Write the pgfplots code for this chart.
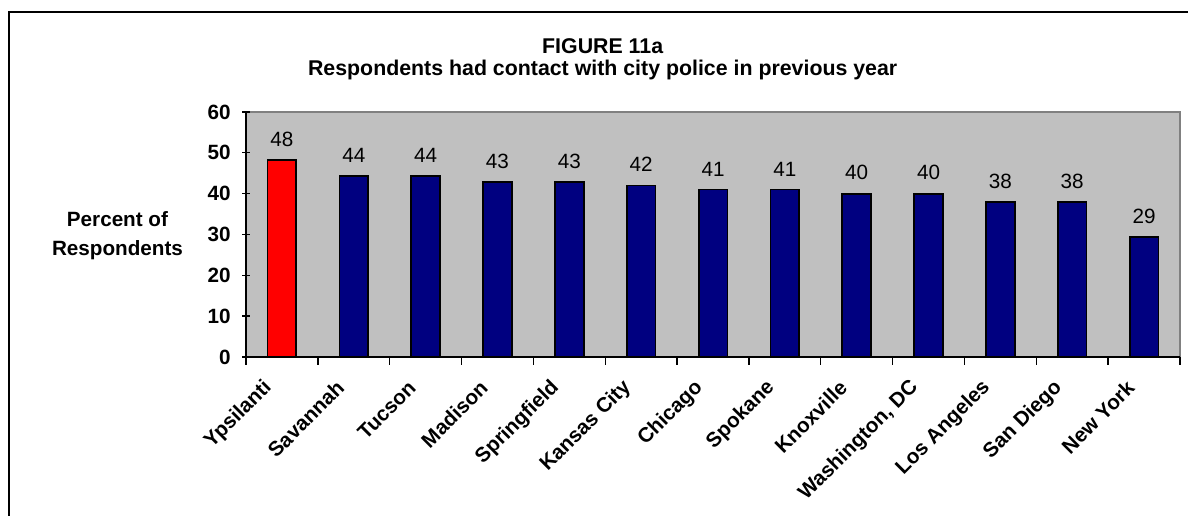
\documentclass[border=0pt]{standalone}
\usepackage{pgfplots}
\pgfplotsset{compat=1.18}
\usepackage{fontspec}
\setmainfont{Liberation Sans}
\definecolor{plotgray}{RGB}{192,192,192}
\definecolor{navybar}{RGB}{0,0,128}
\definecolor{bordergray}{RGB}{128,128,128}
\begin{document}
\begin{tikzpicture}
\useasboundingbox (0,0) rectangle (891pt,387pt);
\draw[line width=1.5pt] (6.75pt,0) -- (6.75pt,378pt) -- (891pt,378pt);
\node[anchor=base, inner sep=0pt, font=\fontsize{16}{19}\selectfont\bfseries] at (452pt,347pt) {FIGURE 11a};
\node[anchor=base, inner sep=0pt, font=\fontsize{16}{19}\selectfont\bfseries] at (452pt,330pt) {Respondents had contact with city police in previous year};
\begin{axis}[
  at={(184.5pt,119.25pt)}, anchor=south west,
  width=700.5pt, height=183.75pt, scale only axis,
  xmin=-0.5, xmax=12.5, ymin=0, ymax=60,
  ytick={0,10,...,60},
  xtick={0,...,12},
  xticklabels={Ypsilanti,Savannah,Tucson,Madison,Springfield,Kansas City,Chicago,Spokane,Knoxville,{Washington, DC},Los Angeles,San Diego,New York},
  minor xtick={-0.5,0.5,...,12.5},
  major x tick style={draw=none},
  tick align=outside,
  tick style={black, line width=1pt},
  major tick length=6pt,
  minor tick length=6pt,
  axis lines=left,
  axis line style={-, black, line width=1.3pt},
  axis background/.style={fill=plotgray, draw=bordergray, line width=1.5pt},
  /pgf/number format/assume math mode=true,
  yticklabel style={font=\fontsize{15.5}{18}\selectfont\bfseries, xshift=-5pt},
  xticklabel style={font=\fontsize{15.5}{18}\selectfont\bfseries, xshift=-10pt, yshift=-14.5pt, rotate=45, anchor=east, inner sep=0pt},
  ybar, bar width=0.4, bar shift=0pt,
  nodes near coords={\pgfmathprintnumber[fixed,precision=0,assume math mode=true]{\pgfplotspointmeta}},
  every node near coord/.append style={font=\fontsize{15.5}{18}\selectfont, black, anchor=south, inner sep=0pt, yshift=9.5pt},
  clip=false,
]
\addplot[fill=red, draw=black, line width=1.3pt] coordinates {(0,48.2)};
\addplot[fill=navybar, draw=black, line width=1.3pt] coordinates {
(1,44.3) (2,44.3) (3,42.9) (4,42.9) (5,42.0) (6,41.0) (7,41.0) (8,40.0) (9,40.0) (10,38.0) (11,38.0) (12,29.3)};
\node[align=center, font=\fontsize{15.5}{22}\selectfont\bfseries] at (axis description cs:-0.1376,0.496) {Percent of\\Respondents};
\end{axis}
\end{tikzpicture}
\end{document}
